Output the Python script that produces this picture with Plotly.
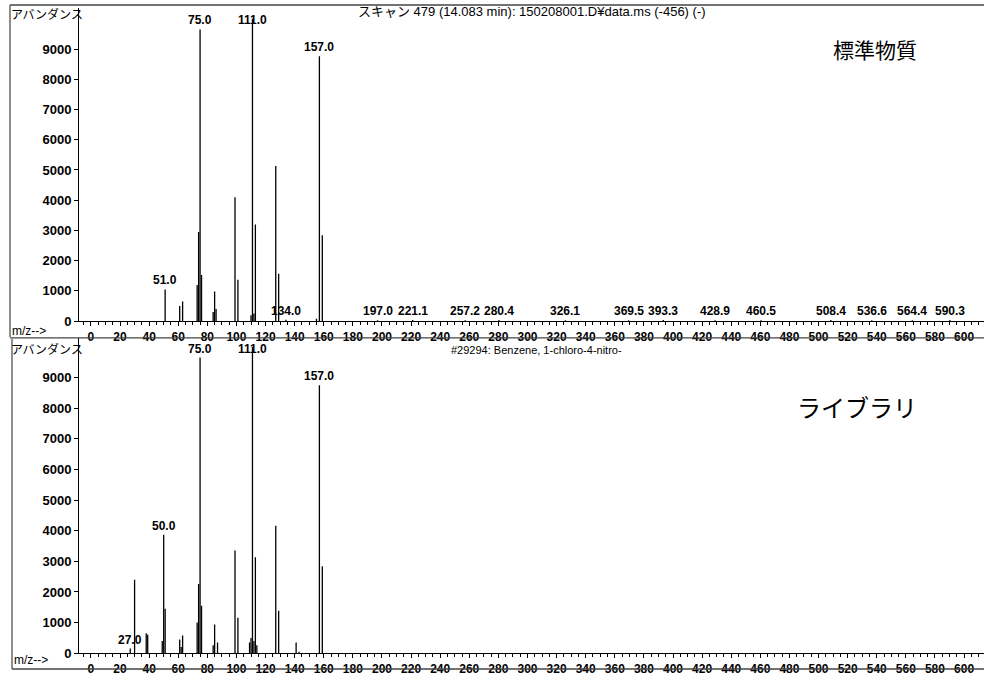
import plotly.graph_objects as go

W, H = 984, 679

# ---------------- data ----------------
# Standard (標準物質) scan 479
std_mz = [51, 61, 63, 73, 74, 75, 76, 84, 85, 86, 99, 101, 110, 111, 112, 113,
          127, 129, 134, 155, 157, 159]
std_ab = [1050, 500, 650, 1200, 2950, 9650, 1530, 300, 980, 400, 4100, 1370, 200, 9999, 250, 3200,
          5130, 1570, 45, 80, 8760, 2840]
std_labeled = [51.0, 75.0, 111.0, 134.0, 157.0]
std_label_ab = [1050, 9650, 9999, 45, 8760]

std_noise_mz = [197.0, 221.1, 257.2, 280.4, 326.1, 369.5, 393.3, 428.9, 460.5,
                508.4, 536.6, 564.4, 590.3]
std_noise_ab = [30, 35, 30, 35, 30, 30, 35, 30, 30, 35, 30, 30, 35]

# Library (ライブラリ) #29294
lib_mz = [27, 30, 38, 39, 49, 50, 51, 61, 62, 63, 73, 74, 75, 76, 84, 85, 87,
          99, 101, 109, 110, 111, 112, 113, 114, 127, 129, 141, 143, 157, 159]
lib_ab = [150, 2400, 650, 600, 400, 3870, 1450, 450, 200, 580, 1000, 2260, 9650, 1550, 260, 940, 350,
          3350, 1160, 350, 500, 9999, 400, 3130, 260, 4160, 1390, 350, 50, 8750, 2840]
lib_labeled = [27.0, 50.0, 75.0, 111.0, 157.0]
lib_label_ab = [150, 3870, 9650, 9999, 8750]

x_tickvals = [0, 20, 40, 60, 80, 100, 120, 140, 160, 180, 200, 220, 240, 260, 280, 300,
              320, 340, 360, 380, 400, 420, 440, 460, 480, 500, 520, 540, 560, 580, 600]
y_tickvals = [0, 1000, 2000, 3000, 4000, 5000, 6000, 7000, 8000, 9000]

top_title = "スキャン 479 (14.083 min): 150208001.D¥data.ms (-456) (-)"
bot_title = "#29294: Benzene, 1-chloro-4-nitro-"
y_title = "アバンダンス"
x_title = "m/z-->"
top_name = "標準物質"
bot_name = "ライブラリ"

# ---------------- helpers ----------------
def px(x):
    return x / W

def py(y):
    return 1 - y / H

FONT = "Liberation Sans, Arial, Noto Sans CJK JP, sans-serif"
CJK = "Noto Sans CJK JP, sans-serif"


def sticks(mz, ab):
    xs, ys = [], []
    for m, a in zip(mz, ab):
        xs += [m, m, None]
        ys += [0, a, None]
    return xs, ys


fig = go.Figure()

for mz, ab, xa, ya in [(std_mz, std_ab, "x", "y"),
                        (std_noise_mz, std_noise_ab, "x", "y"),
                        (lib_mz, lib_ab, "x2", "y2")]:
    xs, ys = sticks(mz, ab)
    fig.add_trace(go.Scatter(x=xs, y=ys, mode="lines", xaxis=xa, yaxis=ya,
                             line=dict(color="black", width=1.3),
                             showlegend=False, hoverinfo="skip"))

annotations = []
CAP = 9650
for mzs, abs_, xr, yr in [(std_labeled, std_label_ab, "x", "y"),
                          (std_noise_mz, std_noise_ab, "x", "y"),
                          (lib_labeled, lib_label_ab, "x2", "y2")]:
    for m, a in zip(mzs, abs_):
        annotations.append(dict(x=m, y=min(a, CAP), xref=xr, yref=yr,
                                text=f"<b>{m:.1f}</b>", showarrow=False,
                                xanchor="center", yanchor="bottom",
                                font=dict(family=FONT, size=12, color="black")))

# titles & labels
annotations += [
    dict(x=px(532), y=py(12), xref="paper", yref="paper", text=top_title,
         showarrow=False, xanchor="center", yanchor="middle",
         font=dict(family=FONT, size=13, color="black")),
    dict(x=px(536), y=py(354), xref="paper", yref="paper", text=bot_title,
         showarrow=False, xanchor="center", yanchor="middle",
         font=dict(family=FONT, size=11, color="black")),
    dict(x=px(9), y=py(14), xref="paper", yref="paper", text=y_title,
         showarrow=False, xanchor="left", yanchor="middle",
         font=dict(family=CJK, size=12, color="black")),
    dict(x=px(9), y=py(353), xref="paper", yref="paper", text=y_title,
         showarrow=False, xanchor="left", yanchor="middle",
         font=dict(family=CJK, size=12, color="black")),
    dict(x=px(10), y=py(335), xref="paper", yref="paper", text=x_title,
         showarrow=False, xanchor="left", yanchor="middle",
         font=dict(family=FONT, size=12, color="black")),
    dict(x=px(12), y=py(668), xref="paper", yref="paper", text=x_title,
         showarrow=False, xanchor="left", yanchor="middle",
         font=dict(family=FONT, size=12, color="black")),
    dict(x=px(919), y=py(50), xref="paper", yref="paper", text=top_name,
         showarrow=False, xanchor="right", yanchor="middle",
         font=dict(family=CJK, size=21, color="black")),
    dict(x=px(919), y=py(411), xref="paper", yref="paper", text=bot_name,
         showarrow=False, xanchor="right", yanchor="middle",
         font=dict(family=CJK, size=24, color="black")),
]

shapes = []
def pline(x0, y0, x1, y1, w=1.2, c="#444"):
    shapes.append(dict(type="line", xref="paper", yref="paper",
                       x0=px(x0), y0=py(y0), x1=px(x1), y1=py(y1),
                       line=dict(color=c, width=w)))

pline(10, 5, 984, 5, 1.5)
pline(10, 5, 10, 341, 1.2)
pline(10, 342, 984, 342, 1.2)
pline(12, 343, 12, 677, 1.2)
pline(12, 677, 984, 677, 1.5)

xcommon = dict(range=[-8.2, 613.7], tickvals=x_tickvals, ticktext=[str(v) for v in x_tickvals],
               ticks="outside", ticklen=4, tickwidth=1, tickcolor="black",
               minor=dict(dtick=5, tick0=0, ticks="outside", ticklen=3, tickcolor="black"),
               showline=True, linecolor="black", linewidth=1, showgrid=False, zeroline=False,
               tickfont=dict(family=FONT, size=12, color="black", weight="bold"),
               domain=[px(79), 1])
ycommon = dict(tickvals=y_tickvals, ticktext=[str(v) for v in y_tickvals],
               ticks="outside", ticklen=4, tickwidth=1, tickcolor="black",
               showline=True, linecolor="black", linewidth=1, showgrid=False, zeroline=False,
               tickfont=dict(family=FONT, size=13, color="black", weight="bold"))

fig.update_layout(
    width=W, height=H, margin=dict(l=0, r=0, t=0, b=0),
    paper_bgcolor="white", plot_bgcolor="white",
    xaxis=dict(**xcommon, anchor="y"),
    yaxis=dict(**ycommon, range=[0, 10360], domain=[py(325), py(8)], anchor="x"),
    xaxis2=dict(**xcommon, anchor="y2"),
    yaxis2=dict(**ycommon, range=[0, 10290], domain=[py(661), py(342)], anchor="x2"),
    annotations=annotations, shapes=shapes, showlegend=False,
)

fig.write_html("out.html")
